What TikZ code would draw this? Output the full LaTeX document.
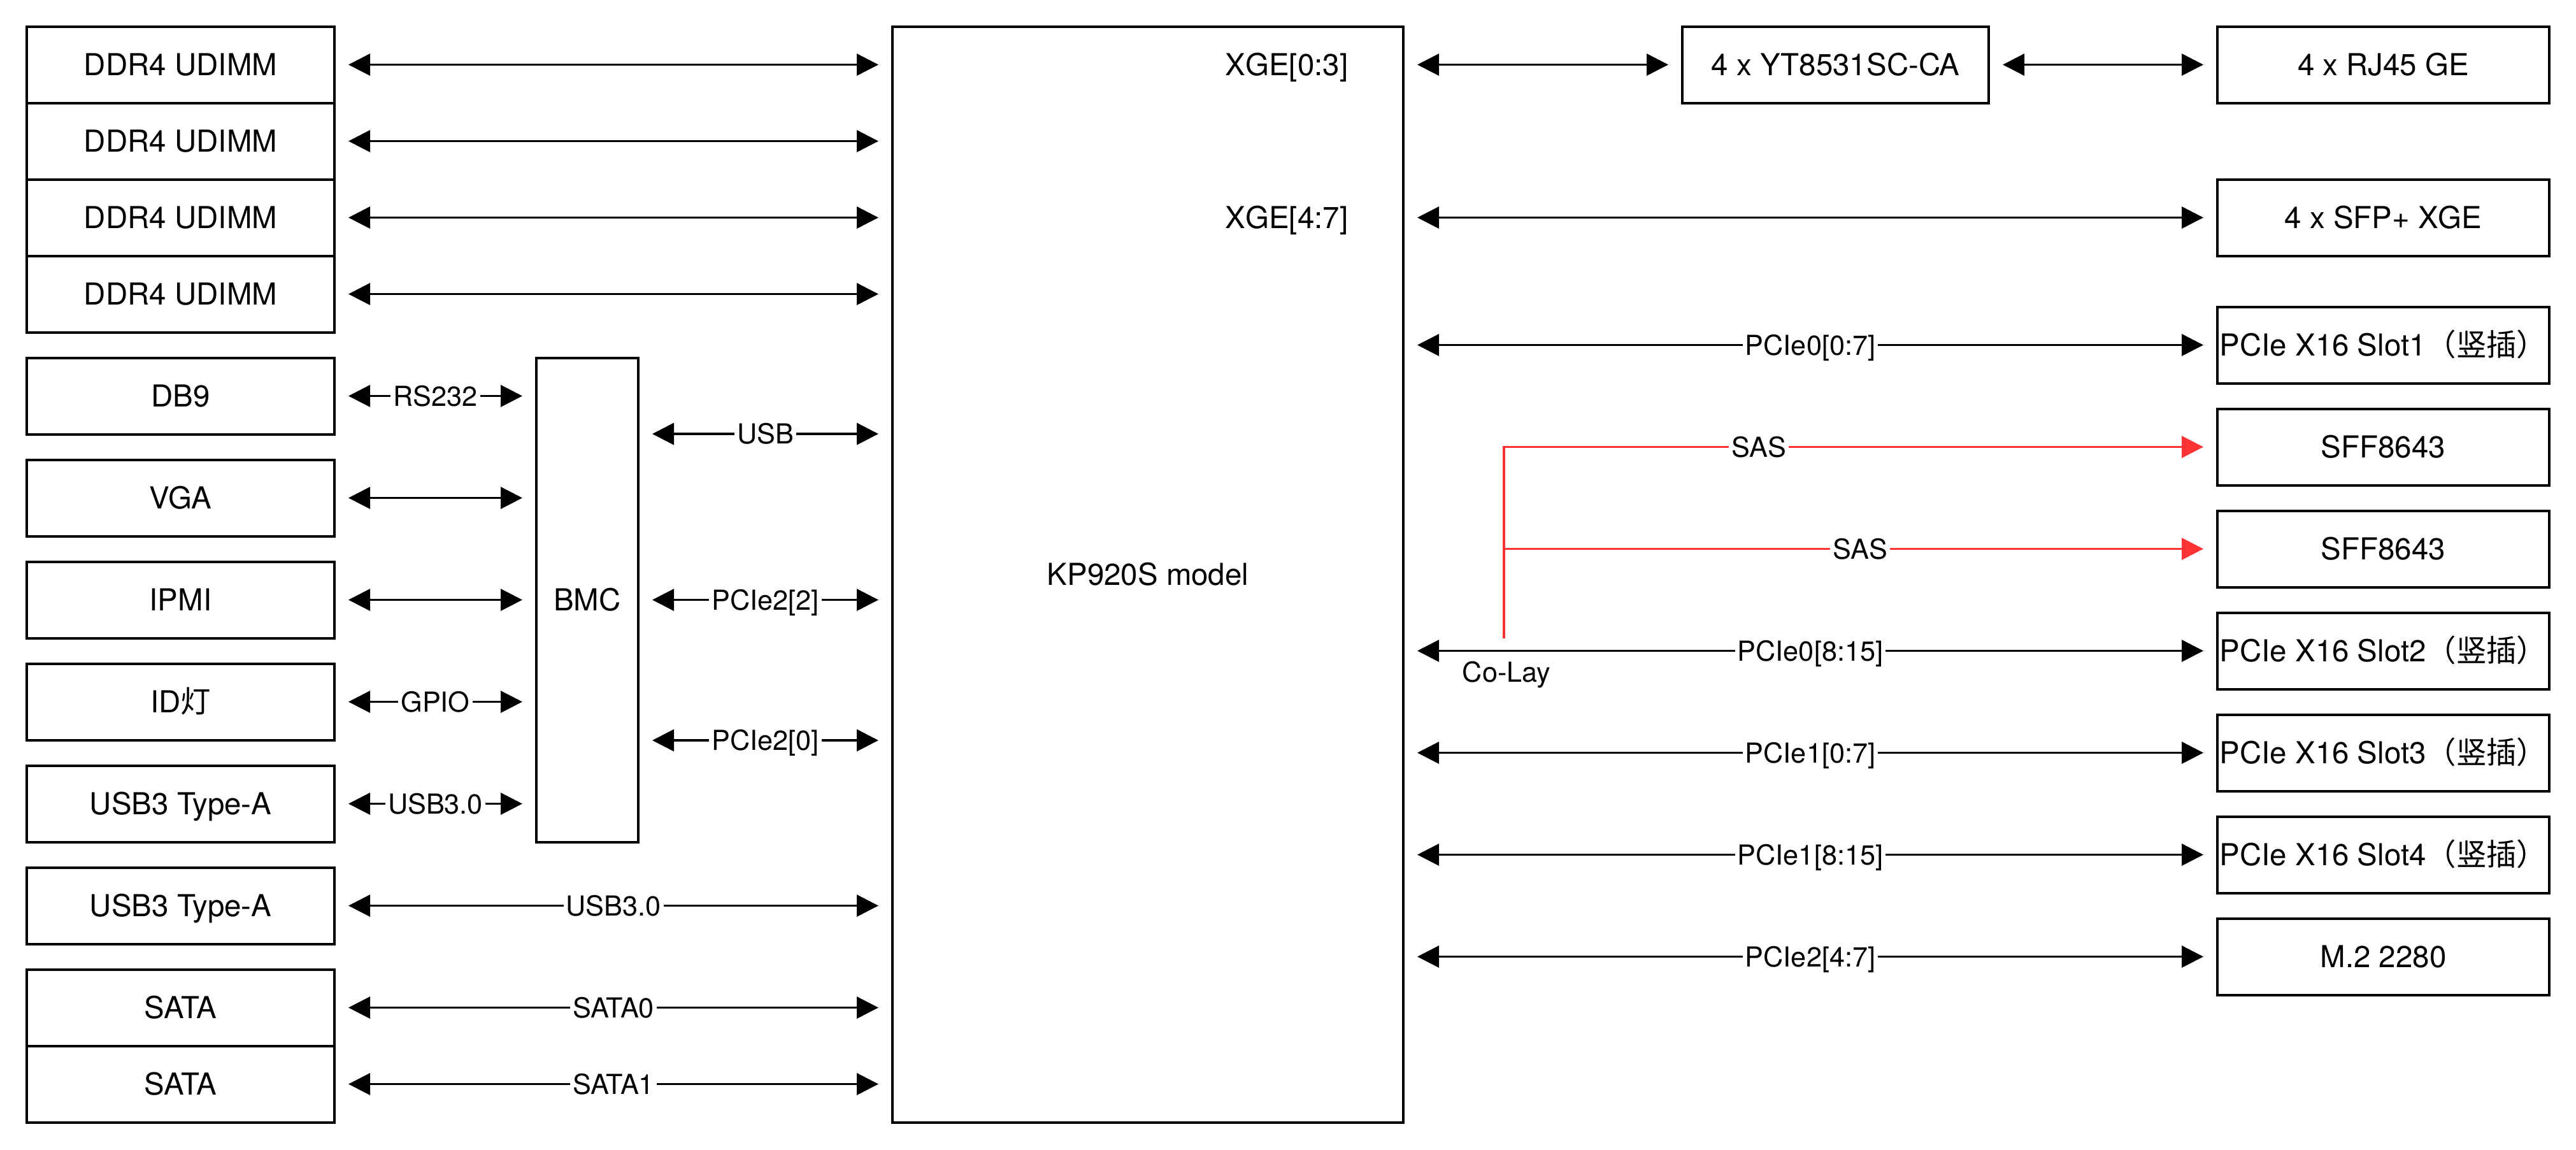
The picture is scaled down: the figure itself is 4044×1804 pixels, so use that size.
\documentclass[tikz,border=0pt]{standalone}
\usepackage{fontspec}
\setmainfont{TeX Gyre Heros}
\newfontfamily\cjk{Noto Sans CJK SC}
\usetikzlibrary{arrows.meta}
\definecolor{sasred}{HTML}{FF3333}
\begin{document}
\begin{tikzpicture}[x=0.1mm,y=-0.1mm,
  box/.style={draw, line width=0.4mm, minimum height=12mm, inner sep=0pt,
    font=\fontsize{13.5}{16}\selectfont, text height=3.39mm, text depth=0pt, align=center},
  lbox/.style={box, minimum width=48.3mm},
  rbox/.style={box, minimum width=52.1mm},
  txt/.style={inner sep=0pt, font=\fontsize{13.5}{16}\selectfont, text height=3.39mm, text depth=0pt},
  lab/.style={fill=white, inner xsep=0.4mm, inner ysep=0.8mm, font=\fontsize{12.3}{14}\selectfont,
    text height=3.1mm, text depth=0pt},
  labtxt/.style={inner sep=0pt, font=\fontsize{12.3}{14}\selectfont, text height=3.1mm, text depth=0pt},
  link/.style={line width=0.36mm, {Triangle[length=3.4mm,width=3.4mm]}-{Triangle[length=3.4mm,width=3.4mm]},
    shorten <=2mm, shorten >=2mm},
  saslink/.style={line width=0.36mm, draw=sasred, -{Triangle[length=3.4mm,width=3.4mm,fill=sasred]},
    shorten >=2mm}
]
\useasboundingbox (0,0) rectangle (4044,1804);

% left column
\node[lbox] (ddr1) at (283.5,101.5) {DDR4 UDIMM};
\node[lbox] (ddr2) at (283.5,221.5) {DDR4 UDIMM};
\node[lbox] (ddr3) at (283.5,341.5) {DDR4 UDIMM};
\node[lbox] (ddr4) at (283.5,461.5) {DDR4 UDIMM};
\node[lbox] (db9) at (283.5,621.5) {DB9};
\node[lbox] (vga) at (283.5,781.5) {VGA};
\node[lbox] (ipmi) at (283.5,941.5) {IPMI};
\node[lbox] (idl) at (283.5,1101.5) {ID{\cjk 灯}};
\node[lbox] (usba) at (283.5,1261.5) {USB3 Type-A};
\node[lbox] (usbb) at (283.5,1421.5) {USB3 Type-A};
\node[lbox] (sata1) at (283.5,1581.5) {SATA};
\node[lbox] (sata2) at (283.5,1701.5) {SATA};

% BMC and SoC
\node[box, minimum width=16mm, minimum height=76mm] (bmc) at (922,941.5) {BMC};
\node[box, minimum width=80.2mm, minimum height=172mm] (kp) at (1802,901.5) {KP920S model};
\node[txt, anchor=east] (xge03) at (2117,101.5) {XGE[0:3]};
\node[txt, anchor=east] (xge47) at (2117,341.5) {XGE[4:7]};

% right side
\node[box, minimum width=48.1mm] (yt) at (2881.5,101.5) {4 x YT8531SC-CA};
\node[rbox] (rj) at (3741.5,101.5) {4 x RJ45 GE};
\node[rbox] (sfp) at (3741.5,341.5) {4 x SFP+ XGE};
\node[rbox] (s1) at (3741.5,541.5) {PCIe X16 Slot1{\cjk （竖插）}};
\node[rbox] (sff1) at (3741.5,701.5) {SFF8643};
\node[rbox] (sff2) at (3741.5,861.5) {SFF8643};
\node[rbox] (s2) at (3741.5,1021.5) {PCIe X16 Slot2{\cjk （竖插）}};
\node[rbox] (s3) at (3741.5,1181.5) {PCIe X16 Slot3{\cjk （竖插）}};
\node[rbox] (s4) at (3741.5,1341.5) {PCIe X16 Slot4{\cjk （竖插）}};
\node[rbox] (m2) at (3741.5,1501.5) {M.2 2280};

% left connectors
\draw[link] (ddr1.east) -- (ddr1.east -| kp.west);
\draw[link] (ddr2.east) -- (ddr2.east -| kp.west);
\draw[link] (ddr3.east) -- (ddr3.east -| kp.west);
\draw[link] (ddr4.east) -- (ddr4.east -| kp.west);
\draw[link] (db9.east) -- node[lab]{RS232} (db9.east -| bmc.west);
\draw[link] (vga.east) -- (vga.east -| bmc.west);
\draw[link] (ipmi.east) -- (ipmi.east -| bmc.west);
\draw[link] (idl.east) -- node[lab]{GPIO} (idl.east -| bmc.west);
\draw[link] (usba.east) -- node[lab]{USB3.0} (usba.east -| bmc.west);
\draw[link] ([yshift=26.05mm]bmc.east) -- node[lab]{USB} ([yshift=26.05mm]bmc.east -| kp.west);
\draw[link] (bmc.east) -- node[lab]{PCIe2[2]} (bmc.east -| kp.west);
\draw[link] ([yshift=-22.05mm]bmc.east) -- node[lab]{PCIe2[0]} ([yshift=-22.05mm]bmc.east -| kp.west);
\draw[link] (usbb.east) -- node[lab]{USB3.0} (usbb.east -| kp.west);
\draw[link] (sata1.east) -- node[lab]{SATA0} (sata1.east -| kp.west);
\draw[link] (sata2.east) -- node[lab]{SATA1} (sata2.east -| kp.west);

% right connectors
\draw[link] (kp.east |- yt.west) -- (yt.west);
\draw[link] (yt.east) -- (rj.west);
\draw[link] (kp.east |- sfp.west) -- (sfp.west);
\draw[link] (kp.east |- s1.west) -- node[lab]{PCIe0[0:7]} (s1.west);
\draw[link] (kp.east |- s2.west) -- node[lab]{PCIe0[8:15]} (s2.west);
\draw[link] (kp.east |- s3.west) -- node[lab]{PCIe1[0:7]} (s3.west);
\draw[link] (kp.east |- s4.west) -- node[lab]{PCIe1[8:15]} (s4.west);
\draw[link] (kp.east |- m2.west) -- node[lab]{PCIe2[4:7]} (m2.west);

% SAS co-lay
\coordinate (colay) at (2361,1002);
\coordinate (sasj) at (2361,861.5);
\draw[saslink] (colay) |- node[lab, pos=0.679]{SAS} (sff1.west);
\draw[saslink] (sasj) -- node[lab]{SAS} (sff2.west);
\node[labtxt] (colaytxt) at (2365,1055) {Co-Lay};
\end{tikzpicture}
\end{document}
